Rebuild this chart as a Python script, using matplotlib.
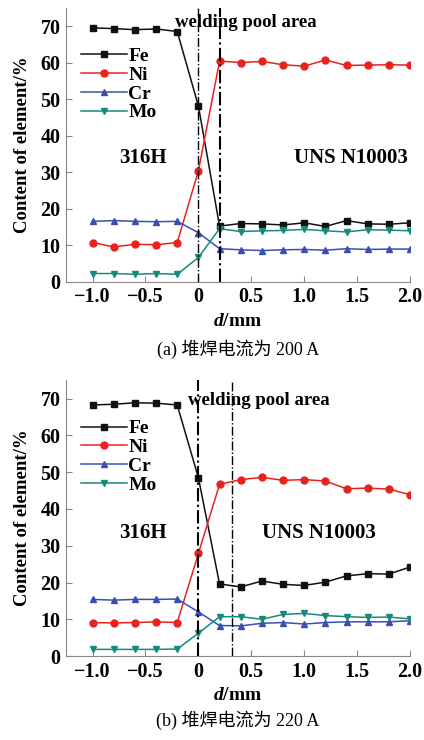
import matplotlib
matplotlib.use("Agg")
import matplotlib.pyplot as plt

plt.rcParams['font.family'] = ['Liberation Serif', 'Noto Sans CJK SC']
plt.rcParams['mathtext.fontset'] = 'custom'
plt.rcParams['mathtext.it'] = 'Liberation Serif:italic:bold'
plt.rcParams['mathtext.rm'] = 'Liberation Serif:bold'

# distance from interface, mm
d = [-1.0, -0.8, -0.6, -0.4, -0.2, 0.0, 0.2, 0.4, 0.6, 0.8, 1.0, 1.2, 1.4, 1.6, 1.8, 2.0]

# (a) 200 A
fe_a = [69.6, 69.4, 69.1, 69.3, 68.6, 48.2, 15.3, 16.0, 15.9, 15.6, 16.2, 15.2, 16.8, 15.9, 15.8, 16.2]
ni_a = [10.8, 9.6, 10.3, 10.2, 10.8, 30.4, 60.5, 60.1, 60.4, 59.5, 59.1, 60.8, 59.3, 59.4, 59.5, 59.4]
cr_a = [16.6, 16.8, 16.6, 16.5, 16.6, 13.5, 9.1, 8.8, 8.6, 8.8, 8.9, 8.7, 9.1, 8.9, 9.0, 9.0]
mo_a = [2.3, 2.3, 2.1, 2.3, 2.1, 6.7, 14.6, 13.8, 14.0, 14.1, 14.4, 14.0, 13.7, 14.3, 14.2, 14.0]

# (b) 220 A
fe_b = [68.3, 68.5, 68.9, 68.8, 68.3, 48.5, 19.6, 18.8, 20.4, 19.5, 19.2, 20.1, 21.8, 22.4, 22.3, 24.2]
ni_b = [9.1, 9.0, 9.1, 9.3, 9.1, 27.9, 46.7, 48.0, 48.6, 47.8, 48.0, 47.6, 45.5, 45.7, 45.4, 43.9]
cr_b = [15.4, 15.2, 15.4, 15.4, 15.5, 12.0, 8.3, 8.2, 8.9, 9.1, 8.7, 9.1, 9.3, 9.3, 9.3, 9.6]
mo_b = [1.8, 1.8, 1.8, 1.8, 1.9, 6.2, 10.7, 10.7, 10.0, 11.3, 11.6, 11.0, 10.7, 10.5, 10.6, 10.1]

elements = ['Fe', 'Ni', 'Cr', 'Mo']
colors = ['#111111', '#e8231f', '#3b4fb0', '#188a7c']
markers = ['s', 'o', '^', 'v']

fig = plt.figure(figsize=(4.24, 7.40), dpi=100)
ax1 = fig.add_axes([0.156, 0.619, 0.811, 0.370])
ax2 = fig.add_axes([0.156, 0.1135, 0.811, 0.3725])


def draw(ax, series, pool_lines, lw_lines, txt_pool, txt_316, txt_uns, caption, cap_y):
    for vals, name, c, m in zip(series, elements, colors, markers):
        ax.plot(d, vals, color=c, marker=m, markersize=5, lw=1.1, label=name)
    for xv, lw in zip(pool_lines, lw_lines):
        ax.axvline(xv, color='black', ls='-.', lw=lw)
    ax.set_xlim(-1.25, 2.0)
    ax.set_ylim(0, 75)
    ax.set_xticks([-1.0, -0.5, 0, 0.5, 1.0, 1.5, 2.0])
    ax.set_xticklabels(['\u22121.0', '\u22120.5', '0', '0.5', '1.0', '1.5', '2.0'])
    ax.set_yticks(range(0, 80, 10))
    for s in ['top', 'right']:
        ax.spines[s].set_visible(False)
    for s in ['left', 'bottom']:
        ax.spines[s].set_color('#888888')
    ax.tick_params(direction='in', length=4, color='#888888', labelsize=14.5, pad=4)
    for lab in ax.get_xticklabels() + ax.get_yticklabels():
        lab.set_fontweight('bold')
    ax.set_xlabel('$d$/mm', fontsize=14, fontweight='bold', labelpad=4)
    ax.set_ylabel('Content of element/%', fontsize=13.5, fontweight='bold', labelpad=7)
    ax.text(txt_pool[0], txt_pool[1], 'welding pool area', fontsize=13.5,
            fontweight='bold', ha='center', va='center')
    ax.text(txt_316[0], txt_316[1], '316H', fontsize=15, fontweight='bold',
            ha='center', va='center')
    ax.text(txt_uns[0], txt_uns[1], 'UNS N10003', fontsize=15, fontweight='bold',
            ha='center', va='center')
    leg = ax.legend(loc='upper left', bbox_to_anchor=(0.02, 0.885), frameon=False,
                    fontsize=14, handlelength=2.4, handletextpad=0.05,
                    labelspacing=0.06, borderaxespad=0)
    for t in leg.get_texts():
        t.set_fontweight('bold')
    ax.text(0.5, cap_y, caption, transform=ax.transAxes, fontsize=13,
            ha='center', va='center')


draw(ax1, [fe_a, ni_a, cr_a, mo_a], [0.0, 0.2], [1.0, 1.5],
     (0.45, 71), (-0.52, 34), (1.44, 34), '(a) 堆焊电流为 200 A', -0.245)
draw(ax2, [fe_b, ni_b, cr_b, mo_b], [0.0, 0.32], [1.5, 1.0],
     (0.57, 69.5), (-0.52, 33.4), (1.14, 33.4), '(b) 堆焊电流为 220 A', -0.232)

fig.savefig('out.png', dpi=100)
